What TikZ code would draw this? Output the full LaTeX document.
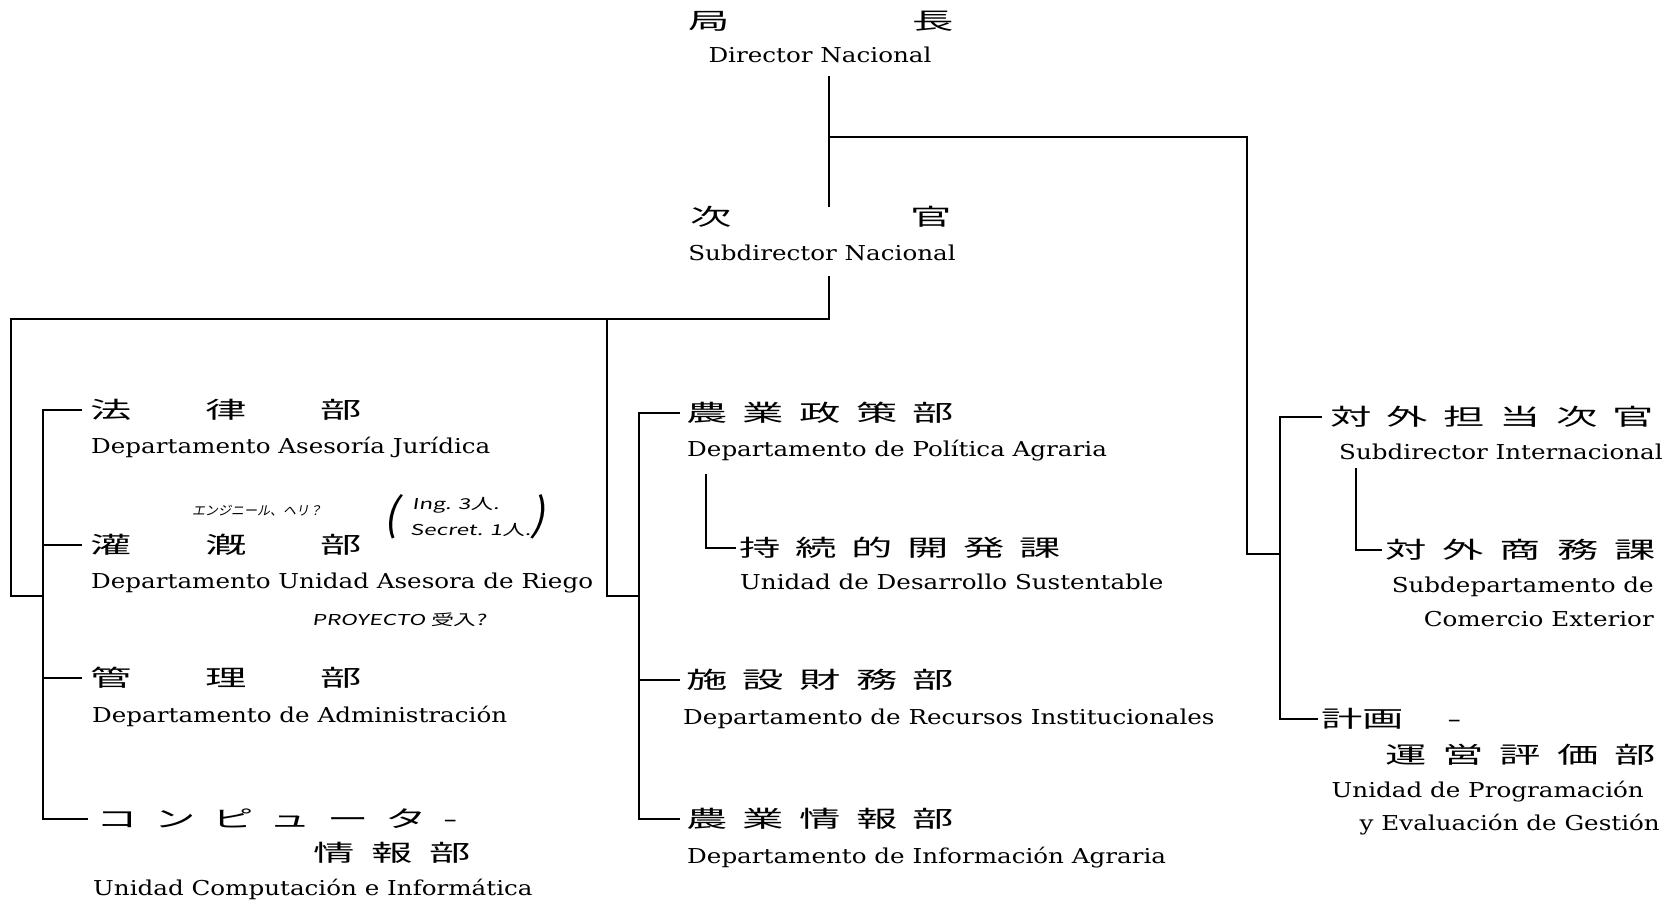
\documentclass[tikz,border=0pt]{standalone}
\usepackage{fontspec}
\setmainfont{DejaVu Serif}[FakeStretch=1.2]
\newfontfamily\jpfont{Noto Sans CJK JP}[FakeStretch=1.8]
\newfontfamily\handfont{Noto Sans CJK JP}[FakeSlant=0.2]
\newfontfamily\handwide{Noto Sans CJK JP}[FakeSlant=0.15,FakeStretch=1.5]
% spread a row of glyphs over a fixed width
\newcommand\jspread[2]{\makebox[#1pt][s]{#2}}
\begin{document}
\begin{tikzpicture}[x=1pt,y=-1pt,
  en/.style={anchor=base west,inner sep=0pt,font=\fontsize{20.5}{24}\selectfont},
  jp/.style={anchor=west,inner sep=0pt,font=\jpfont\fontsize{23}{26}\selectfont},
  hand/.style={inner sep=0pt,anchor=west,font=\handfont\fontsize{13}{15}\selectfont},
  handw/.style={inner sep=0pt,anchor=west,font=\handwide\fontsize{15}{17}\selectfont},
  wire/.style={line width=1.6pt}]
\fill[white] (0,0) rectangle (1677,906);
\useasboundingbox (0,0) rectangle (1677,906);

% ---- top: director and subdirector
\node[jp] (dirJ) at (688,21) {\jspread{266}{局\hfill 長}};
\node[en,anchor=base] (dirE) at (820,62) {Director Nacional};
\node[jp] (subJ) at (690,217) {\jspread{262}{次\hfill 官}};
\node[en,anchor=base] (subE) at (822,260) {Subdirector Nacional};

% ---- left column
\node[jp] (legalJ) at (90,410) {\jspread{272}{法\hfill 律\hfill 部}};
\node[en] (legalE) at (91,453) {Departamento Asesoría Jurídica};
\node[jp] (riegoJ) at (90,545) {\jspread{272}{灌\hfill 漑\hfill 部}};
\node[en] (riegoE) at (91,588) {Departamento Unidad Asesora de Riego};
\node[jp] (adminJ) at (90,678) {\jspread{272}{管\hfill 理\hfill 部}};
\node[en] (adminE) at (92,722) {Departamento de Administración};
\node[jp] (compJ) at (96,819) {\jspread{362}{コ\hfill ン\hfill ピ\hfill ュ\hfill ー\hfill タ\hfill -}};
\node[jp] (compJ2) at (313,853) {\jspread{158}{情\hfill 報\hfill 部}};
\node[en] (compE) at (93,895) {Unidad Computación e Informática};

% handwritten notes
\node[hand] (hw1) at (192,511) {エンジニール、ヘリ？};
\node[hand,font=\handfont\fontsize{44}{44}\selectfont] (hwL) at (383,517) {(};
\node[handw] (hw2) at (412,505) {Ing. 3人.};
\node[handw] (hw3) at (410,530) {Secret. 1人.};
\node[hand,font=\handfont\fontsize{44}{44}\selectfont] (hwR) at (530,517) {)};
\node[handw] (hw4) at (312,620) {PROYECTO 受入?};

% ---- middle column
\node[jp] (polJ) at (686,413) {\jspread{268}{農\hfill 業\hfill 政\hfill 策\hfill 部}};
\node[en] (polE) at (687,456) {Departamento de Política Agraria};
\node[jp] (sustJ) at (739,548) {\jspread{322}{持\hfill 続\hfill 的\hfill 開\hfill 発\hfill 課}};
\node[en] (sustE) at (740,589) {Unidad de Desarrollo Sustentable};
\node[jp] (recJ) at (686,680) {\jspread{268}{施\hfill 設\hfill 財\hfill 務\hfill 部}};
\node[en] (recE) at (683,724) {Departamento de Recursos Institucionales};
\node[jp] (infJ) at (686,819) {\jspread{268}{農\hfill 業\hfill 情\hfill 報\hfill 部}};
\node[en] (infE) at (687,863) {Departamento de Información Agraria};

% ---- right column
\node[jp] (intlJ) at (1330,417) {\jspread{324}{対\hfill 外\hfill 担\hfill 当\hfill 次\hfill 官}};
\node[en] (intlE) at (1339,459) {Subdirector Internacional};
\node[jp] (comJ) at (1385,550) {\jspread{271}{対\hfill 外\hfill 商\hfill 務\hfill 課}};
\node[en,anchor=base east] (comE1) at (1654,592) {Subdepartamento de};
\node[en,anchor=base east] (comE2) at (1654,626) {Comercio Exterior};
\node[jp] (planJ) at (1321,719) {\jspread{141}{計画\hfill -}};
\node[jp] (planJ2) at (1385,755) {\jspread{271}{運\hfill 営\hfill 評\hfill 価\hfill 部}};
\node[en,anchor=base east] (planE1) at (1644,797) {Unidad de Programación};
\node[en,anchor=base east] (planE2) at (1660,830) {y Evaluación de Gestión};

% ---- junction points
\coordinate (dTop) at (829,76);
\coordinate (dJn) at (829,137);
\coordinate (dGap) at (829,207);
\coordinate (rTop) at (1247,137);
\coordinate (rJn) at (1247,554);
\coordinate (rBarJ) at (1280,554);
\coordinate (sBot) at (829,276);
\coordinate (sJn) at (829,319);
\coordinate (lTop) at (11,319);
\coordinate (lJn) at (11,596);
\coordinate (lBarJ) at (43,596);
\coordinate (mTop) at (607,319);
\coordinate (mJn) at (607,596);
\coordinate (mBarJ) at (639,596);
\coordinate (polSub) at (706,474);
\coordinate (intlSub) at (1356,468);

% ---- connectors
\draw[wire] (dTop) -- (dGap);
\draw[wire] (dJn) -- (rTop) -- (rJn) -- (rBarJ);
\draw[wire] (sBot) -- (sJn) -- (lTop) -- (lJn) -- (lBarJ);
\draw[wire] (mTop) -- (mJn) -- (mBarJ);

\draw[wire] ([xshift=-8pt]legalJ.west) -| (lBarJ) |- ([xshift=-8pt]compJ.west);
\draw[wire] (lBarJ |- riegoJ.west) -- ([xshift=-8pt]riegoJ.west);
\draw[wire] (lBarJ |- adminJ.west) -- ([xshift=-8pt]adminJ.west);

\draw[wire] ([xshift=-6pt]polJ.west) -| (mBarJ) |- ([xshift=-6pt]infJ.west);
\draw[wire] (mBarJ |- recJ.west) -- ([xshift=-6pt]recJ.west);
\draw[wire] (polSub) |- ([xshift=-3pt]sustJ.west);

\draw[wire] ([xshift=-8pt]intlJ.west) -| (rBarJ) |- ([xshift=-3pt]planJ.west);
\draw[wire] (intlSub) |- ([xshift=-3pt]comJ.west);
\end{tikzpicture}
\end{document}
